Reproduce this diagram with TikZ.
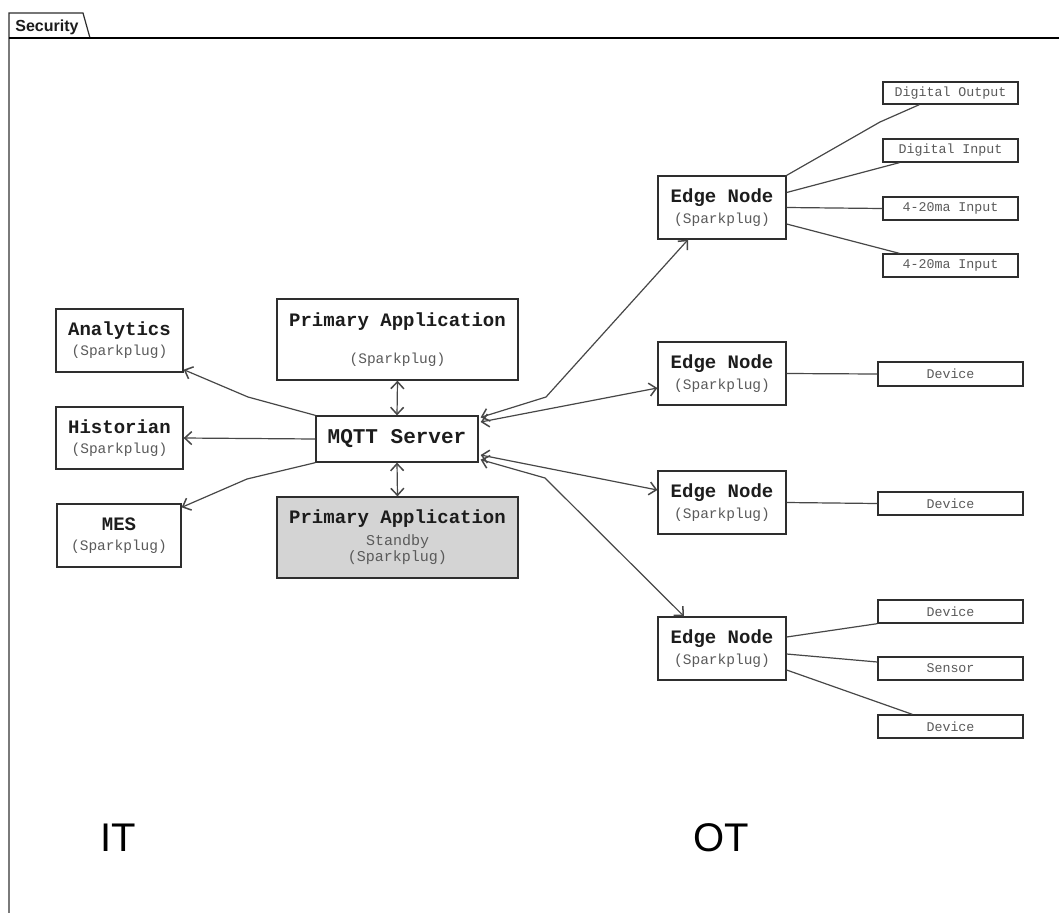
\documentclass[tikz,border=0pt]{standalone}
\usepackage{fontspec}
\setmainfont{Liberation Sans}
\setmonofont{Liberation Mono}
\usetikzlibrary{arrows.meta,calc}

\definecolor{boxc}{HTML}{2E2E2E}
\definecolor{linec}{HTML}{474747}
\definecolor{titlec}{HTML}{1C1C1C}
\definecolor{subc}{HTML}{5A5A5A}
\definecolor{standbyfill}{HTML}{D4D4D4}
\definecolor{framec}{HTML}{7A7A7A}

% title and subtitle lines inside the boxes
\newcommand\nodetitle[1]{{\fontsize{19}{20}\selectfont\bfseries\color{titlec}#1}}
\newcommand\nodesub[1]{{\fontsize{14.5}{20}\selectfont\color{subc}#1}}

\tikzset{
  appbox/.style={draw=boxc, line width=1.3pt, fill=white, inner sep=0pt,
    align=center, font=\ttfamily\fontsize{14.5}{20}\selectfont},
  iobox/.style={draw=boxc, line width=1.3pt, fill=white, inner sep=0pt,
    minimum height=23pt, align=center,
    font=\ttfamily\fontsize{13.3}{15}\selectfont\color{subc}},
  conn/.style={draw=linec, line width=1.2pt},
  tipshape/.style={},
  dualconn/.style={conn, {Straight Barb[length=7pt,width=13pt,line width=1.5pt]}-{Straight Barb[length=7pt,width=13pt,line width=1.5pt]}},
  oneconn/.style={conn, -{Straight Barb[length=7pt,width=13pt,line width=1.5pt]}},
  zonelabel/.style={font=\fontsize{40}{44}\selectfont, text=black, inner sep=0pt}
}

\begin{document}
\begin{tikzpicture}[x=1pt,y=-1pt]
\useasboundingbox (0,0) rectangle (1059,913);
\fill[white] (0,0) rectangle (1059,913);

% frame with its tab
\draw[framec, line width=1.2pt] (9,38) -- (9,913);
\draw[boxc, line width=1.2pt] (9,38) -- (9,13) -- (83,13) -- (90,38);
\draw[black, line width=1.5pt] (9,38) -- (1059,38);
\node[font=\bfseries\fontsize{16}{18}\selectfont, text=titlec, inner sep=0pt] (tabtitle) at (47,27) {Security};

% IT side
\node[appbox, minimum width=127pt, minimum height=63pt] (analytics) at (119.5,340.5)
  {\nodetitle{Analytics}\\\nodesub{(Sparkplug)}};
\node[appbox, minimum width=127pt, minimum height=62pt] (historian) at (119.5,438)
  {\nodetitle{Historian}\\\nodesub{(Sparkplug)}};
\node[appbox, minimum width=124pt, minimum height=63pt] (mes) at (119,535.5)
  {\nodetitle{MES}\\\nodesub{(Sparkplug)}};

% broker and primary applications
\node[appbox, minimum width=241pt, minimum height=81pt] (primary) at (397.5,339.5)
  {\nodetitle{Primary Application}\\[17pt]\nodesub{(Sparkplug)}};
\node[appbox, minimum width=162pt, minimum height=46pt] (mqtt) at (397,439)
  {{\fontsize{21}{22}\selectfont\bfseries\color{titlec}MQTT Server}};
\node[appbox, fill=standbyfill, minimum width=241pt, minimum height=81pt,
  font=\ttfamily\fontsize{15}{16.5}\selectfont] (standby) at (397.5,537.5)
  {\nodetitle{Primary Application}\\[5pt]{\color{subc}Standby}\\{\color{subc}(Sparkplug)}};

% OT side: edge nodes
\node[appbox, minimum width=128pt, minimum height=63pt, font=\ttfamily\fontsize{14.5}{21.5}\selectfont] (edge1) at (722,207.5)
  {\nodetitle{Edge Node}\\\nodesub{(Sparkplug)}};
\node[appbox, minimum width=128pt, minimum height=63pt, font=\ttfamily\fontsize{14.5}{21.5}\selectfont] (edge2) at (722,373.5)
  {\nodetitle{Edge Node}\\\nodesub{(Sparkplug)}};
\node[appbox, minimum width=128pt, minimum height=63pt, font=\ttfamily\fontsize{14.5}{21.5}\selectfont] (edge3) at (722,502.5)
  {\nodetitle{Edge Node}\\\nodesub{(Sparkplug)}};
\node[appbox, minimum width=128pt, minimum height=63pt, font=\ttfamily\fontsize{14.5}{21.5}\selectfont] (edge4) at (722,648.5)
  {\nodetitle{Edge Node}\\\nodesub{(Sparkplug)}};

% field I/O and devices
\node[iobox, minimum width=135pt, minimum height=22pt] (dout) at (950.5,93) {Digital Output};
\node[iobox, minimum width=135pt] (din) at (950.5,150.5) {Digital Input};
\node[iobox, minimum width=135pt] (ma1) at (950.5,208.5) {4-20ma Input};
\node[iobox, minimum width=135pt] (ma2) at (950.5,265.5) {4-20ma Input};
\node[iobox, minimum width=145pt, minimum height=24pt] (dev2) at (950.5,374) {Device};
\node[iobox, minimum width=145pt] (dev3) at (950.5,503.5) {Device};
\node[iobox, minimum width=145pt] (dev4a) at (950.5,611.5) {Device};
\node[iobox, minimum width=145pt] (sensor) at (950.5,668.5) {Sensor};
\node[iobox, minimum width=145pt] (dev4c) at (950.5,726.5) {Device};

% bend points
\coordinate (ba) at (248,397);
\coordinate (bm) at (247,479);
\coordinate (be1) at (546,397);
\coordinate (be4) at (545,478);
\coordinate (bdo) at (880,122);

% broker to applications
\draw[oneconn] (mqtt.north west) -- (ba) -- ($(analytics.south east)+(0,-3)$);
\draw[oneconn] (mqtt.west) -- (historian.east);
\draw[oneconn] (mqtt.south west) -- (bm) -- ($(mes.north east)+(0,4)$);
\draw[dualconn] (primary.south) -- (mqtt.north);
\draw[dualconn] (mqtt.south) -- (standby.north);

% broker to edge nodes
\draw[dualconn] ($(mqtt.north east)+(2,2)$) -- (be1) -- ($(edge1.south)+(-34,0)$);
\draw[dualconn] ($(mqtt.east)+(2,-17)$) -- ($(edge2.west)+(0,14.5)$);
\draw[dualconn] ($(mqtt.east)+(2,16)$) -- ($(edge3.west)+(0,-12.5)$);
\draw[dualconn] ($(mqtt.south east)+(2,-3)$) -- (be4) -- ($(edge4.north)+(-38,0)$);

% edge nodes to their I/O
\draw[conn] (edge1.north east) -- (bdo) -- ($(dout.south west)+(37,0)$);
\draw[conn] ($(edge1.east)+(0,-15)$) -- ($(din.south west)+(17,0)$);
\draw[conn] (edge1.east) -- (ma1.west);
\draw[conn] ($(edge1.east)+(0,16.5)$) -- ($(ma2.north west)+(17,0)$);
\draw[conn] (edge2.east) -- (dev2.west);
\draw[conn] (edge3.east) -- (dev3.west);
\draw[conn] ($(edge4.east)+(0,-11.5)$) -- (dev4a.south west);
\draw[conn] ($(edge4.east)+(0,5.5)$) -- ($(sensor.west)+(0,-6.5)$);
\draw[conn] ($(edge4.east)+(0,21.5)$) -- ($(dev4c.north west)+(35,0)$);

% zone labels
\node[zonelabel] (itlabel) at (118,838) {IT};
\node[zonelabel] (otlabel) at (721,838) {OT};
\end{tikzpicture}
\end{document}
